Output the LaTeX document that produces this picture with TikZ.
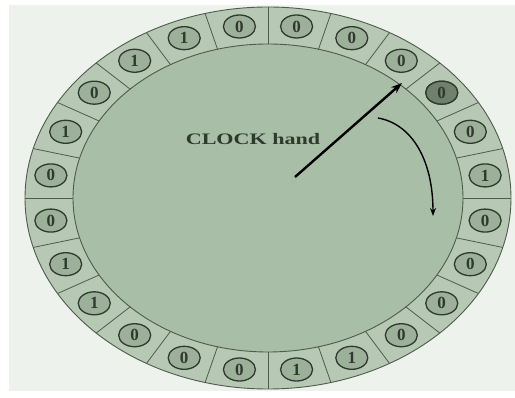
\documentclass[tikz,border=0pt]{standalone}
\usepackage{fontspec}
\setmainfont{Liberation Serif}
\usetikzlibrary{shapes.geometric, arrows.meta}
\definecolor{bgpale}{HTML}{EEF2EC}
\definecolor{ringfill}{HTML}{B7C8B4}
\definecolor{facefill}{HTML}{A9BEA6}
\definecolor{cellfill}{HTML}{9DB09A}
\definecolor{cellhot}{HTML}{6F806D}
\definecolor{rimline}{HTML}{4D5C4B}
\definecolor{inkdark}{HTML}{2E3A2D}
\begin{document}
\begin{tikzpicture}[x=1pt, y=-1pt,
  bitcell/.style={ellipse, draw=inkdark, line width=1.3pt, fill=cellfill,
    minimum width=32pt, minimum height=23pt, inner sep=0pt,
    font=\bfseries\fontsize{17}{17}\selectfont, text=inkdark},
  divider/.style={rimline, line width=0.8pt},
  hand/.style={line width=2.4pt, -{Stealth[length=11pt, width=8pt]}},
  sweep/.style={line width=1.4pt, -{Stealth[length=8pt, width=6pt]}}]
  \useasboundingbox (0,0) rectangle (515,398);
  \fill[white] (0,0) rectangle (515,398);
  \fill[bgpale] (9,5) rectangle (515,391);
  % dial: ring and face
  \draw[rimline, line width=0.9pt, fill=ringfill] (268,198) ellipse [x radius=243, y radius=191];
  \draw[rimline, line width=0.9pt, fill=facefill] (268,198) ellipse [x radius=195, y radius=154];
  % cell borders
  \foreach \t in {0,15,...,345}
    \draw[divider] ({268+195*cos(\t+90)},{198-154*sin(\t+90)})
      -- ({268+243*cos(\t+90)},{198-191*sin(\t+90)});
  % reference bits, clockwise from the top
  \foreach \b [count=\i] in {0,0,0,0,0,1,0,0,0,0,1,1,0,0,0,1,1,0,0,1,0,1,1,0}
    \node[bitcell] (c\i) at ({268+219*cos(97.5-15*\i)},{198-173*sin(97.5-15*\i)}) {\b};
  \node[bitcell, fill=cellhot] at (c4) {0};
  % clock hand
  \coordinate (pivot) at (295,177);
  \coordinate (tip) at (402,83);
  \draw[hand] (pivot) -- (tip);
  \node[text=inkdark] (lbl) at (253,139) {\scalebox{1.38}[1]{\bfseries\fontsize{16}{16}\selectfont CLOCK hand}};
  % direction of sweep
  \coordinate (s0) at (378,118);
  \coordinate (s1) at (433,216);
  \draw[sweep] (s0) .. controls (412,124) and (433,160) .. (s1);
\end{tikzpicture}
\end{document}
